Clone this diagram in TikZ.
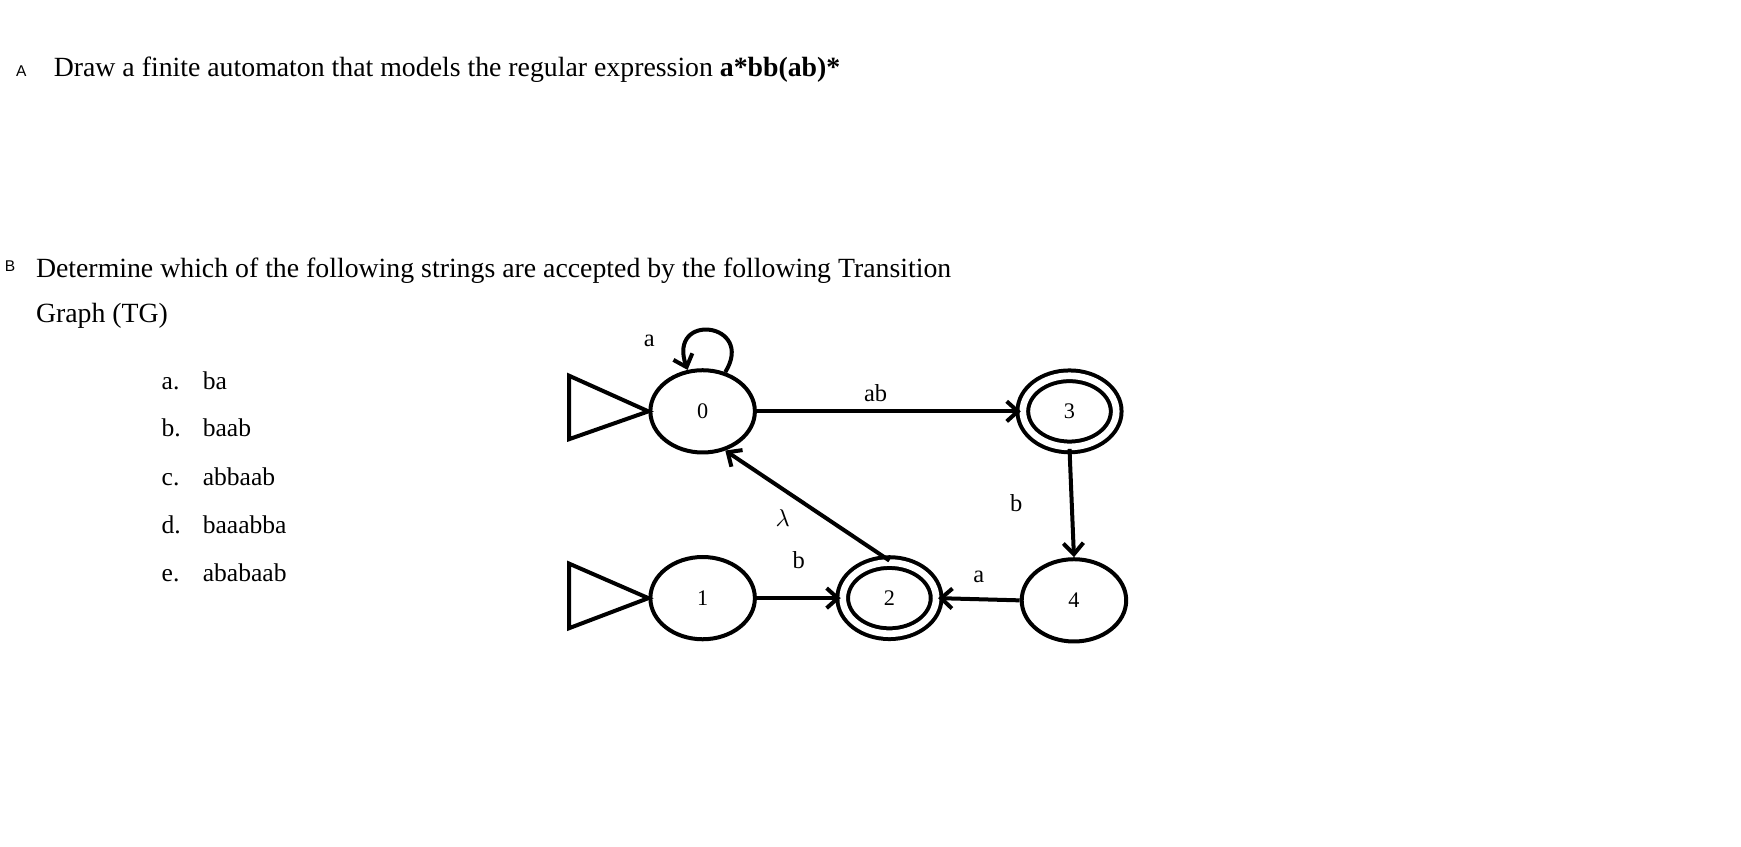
\documentclass[tikz,border=0pt]{standalone}
\usepackage{fontspec}
\setmainfont{Liberation Serif}
\newfontfamily\sansf{Liberation Sans}
\usetikzlibrary{arrows.meta,shapes.geometric}
\begin{document}
\begin{tikzpicture}[x=0.5pt,y=-0.5pt,
  st/.style={ellipse,draw,line width=1.8pt,minimum width=47pt,minimum height=37pt,inner sep=0pt,font=\fontsize{10}{12}\selectfont},
  acc/.style={st,double,double distance=3pt,minimum width=42pt,minimum height=32pt},
  ed/.style={line width=1.8pt,-{Straight Barb[length=5pt,width=9pt,line width=1.8pt]}},
  lab/.style={font=\fontsize{11}{13}\selectfont},
  txt/.style={anchor=base west,inner sep=0pt,font=\fontsize{12.5}{15}\selectfont},
  tri/.style={draw,line width=1.8pt,line join=miter}]
\useasboundingbox (0,0) rectangle (1566,761);
\node[anchor=base west,inner sep=0pt,font=\sansf\fontsize{7}{8}\selectfont] (A) at (14,69) {A};
\node[txt] (qa) at (48,69) {Draw a finite automaton that models the regular expression \textbf{a*bb(ab)*}};
\node[anchor=base west,inner sep=0pt,font=\sansf\fontsize{7}{8}\selectfont] (B) at (4,244) {B};
\node[txt] (qb1) at (32,250) {Determine which of the following strings are accepted by the following Transition};
\node[txt] (qb2) at (32,290) {Graph (TG)};
\foreach \l/\s/\y in {a/ba/350,b/baab/393,c/abbaab/437,d/baaabba/480,e/ababaab/523}{
  \node[txt,font=\fontsize{11.5}{14}\selectfont] (l\l) at (145,\y) {\l.};
  \node[txt,font=\fontsize{11.5}{14}\selectfont] (s\l) at (182,\y) {\s};
}
\node[st] (n0) at (632,370) {0};
\node[acc] (n3) at (962,370) {3};
\node[st] (n1) at (632,538) {1};
\node[acc] (n2) at (800,538) {2};
\node[st] (n4) at (966,540) {4};
\draw[tri] (512,338) -- (512,395) -- (n0.west) -- cycle;
\draw[tri] (512,507) -- (512,565) -- (n1.west) -- cycle;
\draw[ed] (n0.60) .. controls (680,290) and (600,280) .. (n0.110);
\node[lab] (la) at (584,307) {a};
\draw[ed] (n0.east) -- node[lab,above,pos=0.45] {ab} (n3.west);
\draw[ed] (n3.south) -- node[lab,left,xshift=-18pt] {b} (n4.north);
\draw[ed] (n4.west) -- node[lab,above,yshift=3pt] {a} (n2.east);
\draw[ed] (n1.east) -- node[lab,above,yshift=9pt] {b} (n2.west);
\draw[ed] (n2.north) -- node[lab,below left,pos=0.55] {$\lambda$} (n0.300);
\end{tikzpicture}
\end{document}
